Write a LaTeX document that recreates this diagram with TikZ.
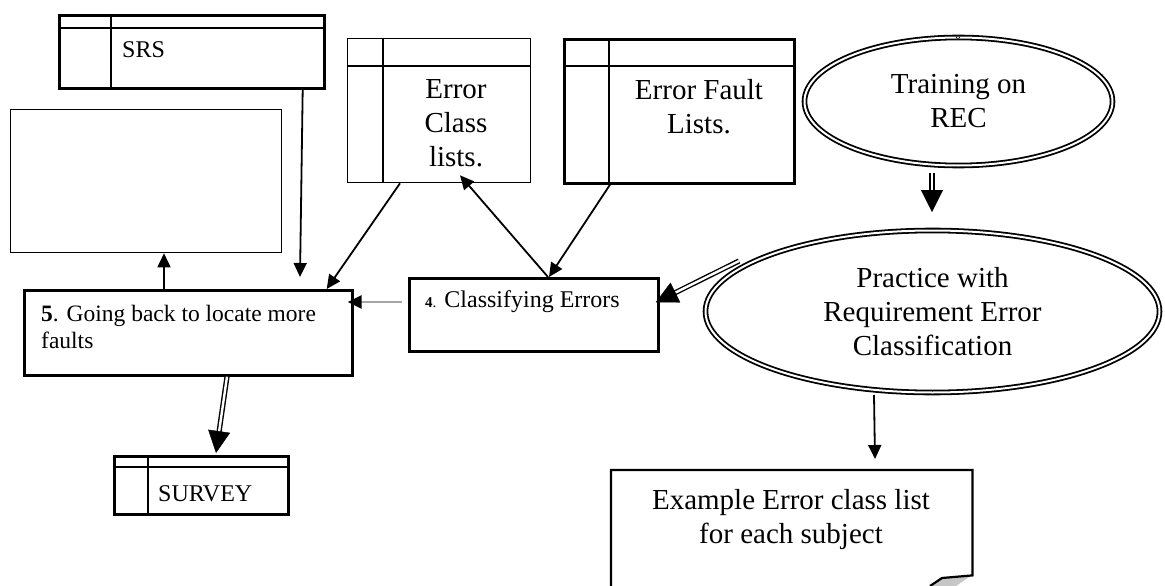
\documentclass[tikz,border=0pt]{standalone}
\usepackage{fontspec}
\setmainfont{Liberation Serif}
\usetikzlibrary{shapes.geometric,arrows.meta,calc}
\begin{document}
\begin{tikzpicture}[x=1pt,y=-1pt,
  thickbox/.style={draw, line width=2.7pt, rectangle, inner sep=0pt, anchor=north west},
  thinbox/.style={draw, line width=1.3pt, rectangle, inner sep=0pt, anchor=north west},
  arr/.style={line width=1.8pt, -{Triangle[length=14pt,width=13pt]}},
  dbl/.style={line width=1.4pt, double=white, double distance=2.4pt},
  bigtip/.style={line width=0.4pt, -{Triangle[length=22pt,width=22pt]}},
  ell/.style={ellipse, draw, line width=1.8pt, double=white, double distance=2.0pt, inner sep=0pt, align=center},
  big/.style={font=\fontsize{29}{34}\selectfont},
  mid/.style={font=\fontsize{24}{28}\selectfont},
]
\useasboundingbox[fill=white] (0,0) rectangle (1165,586);

% boxes
\node[thickbox, minimum width=265pt, minimum height=73pt] (srs) at (58,14) {};
\draw[line width=2.7pt] ($(srs.north west)+(0,14)$) -- ($(srs.north east)+(0,14)$);
\draw[line width=2.7pt] ($(srs.north west)+(53,0)$) -- ($(srs.south west)+(53,0)$);
\node[mid, anchor=base west, inner sep=0pt] (srst) at (122,58) {SRS};

\node[thinbox, minimum width=271pt, minimum height=143pt] (empty) at (10,109) {};

\node[thinbox, minimum width=183pt, minimum height=144pt] (ecl) at (347,38) {};
\draw[line width=1.3pt] ($(ecl.north west)+(0,28)$) -- ($(ecl.north east)+(0,28)$);
\draw[line width=1.3pt] ($(ecl.north west)+(36,0)$) -- ($(ecl.south west)+(36,0)$);
\node[big, align=center, inner sep=0pt] (eclt) at (456,123) {Error\\Class\\lists.};

\node[thickbox, minimum width=230pt, minimum height=144pt] (efl) at (563,38) {};
\draw[line width=2.7pt] ($(efl.north west)+(0,28)$) -- ($(efl.north east)+(0,28)$);
\draw[line width=2.7pt] ($(efl.north west)+(46,0)$) -- ($(efl.south west)+(46,0)$);
\node[big, align=center, inner sep=0pt] (eflt) at (699,106.5) {Error Fault\\Lists.};

\node[thickbox, minimum width=328pt, minimum height=85pt] (b5) at (23,289) {};
\node[anchor=north west, align=left, inner sep=0pt, font=\fontsize{23.5}{27}\selectfont] (b5t) at (41,305) {\textbf{5}. Going back to locate more\\faults};

\node[thickbox, minimum width=249pt, minimum height=73pt] (b4) at (408,277) {};
\node[mid, anchor=base west, inner sep=0pt] (b4t) at (425,307) {{\fontsize{15}{18}\selectfont\textbf{4}.} Classifying Errors};

\node[thickbox, minimum width=174pt, minimum height=58pt] (sv) at (113,455) {};
\draw[line width=2.7pt] ($(sv.north west)+(0,12)$) -- ($(sv.north east)+(0,12)$);
\draw[line width=2.7pt] ($(sv.north west)+(35,0)$) -- ($(sv.south west)+(35,0)$);
\node[mid, anchor=base west, inner sep=0pt] (svt) at (158,501) {SURVEY};

% ellipses
\node[ell, big, minimum width=308pt, minimum height=128pt] (train) at (958.5,101.5) {Training on\\REC};
\draw[line width=0.6pt, fill=white] (958,37.5) circle (1.8pt);
\node[ell, big, minimum width=454pt, minimum height=162pt] (prac) at (932.5,311.5) {Practice with\\Requirement Error\\Classification};

% example document
\node[inner sep=0pt, anchor=north west, minimum width=361pt, minimum height=116pt] (ex) at (611,470) {};
\fill[gray!45] (930,586) -- (942,578) -- (972,575) -- (956,586) -- cycle;
\draw[line width=2.2pt, line join=miter] (ex.south west) -- (ex.north west) -- (ex.north east) -- ($(ex.south east)+(0,-11)$) -- (942,578) -- (930,586);
\node[big, align=center, inner sep=0pt] (ext) at (791,520) {Example Error class list\\for each subject};

% connectors
\coordinate (t1) at (300,277);
\draw[arr] ($(srs.south east)+(-23,0)$) -- (t1);
\draw[arr] ($(b5.north west)+(141,0)$) coordinate (u1) -- (u1 |- empty.south);
\draw[arr] ($(ecl.south west)+(53,0)$) -- ($(b5.north east)+(-27,0)$);
\draw[arr] ($(efl.south west)+(47,0)$) -- ($(b4.north west)+(141,0)$);
\draw[arr] ($(b4.north west)+(140,0)$) -- ($(ecl.south west)+(113,-8)$);
\draw[line width=2.6pt, draw=gray!70, -{Triangle[length=14pt,width=13pt,color=black]}] ($(b4.north west)+(-6,25)$) -- ($(b5.north east)+(-6,13)$);

% double arrows
\coordinate (p1) at (739,261);
\coordinate (p4) at ($(b4.east)+(-4,-12.5)$);
\draw[dbl] (p1) -- ($(p4)!16pt!(p1)$);
\draw[bigtip] ($(p4)!20pt!(p1)$) -- (p4);

\coordinate (ta) at (932,173);
\coordinate (tb) at (932,212);
\draw[dbl] (ta) -- ($(tb)!18pt!(ta)$);
\draw[bigtip] ($(tb)!22pt!(ta)$) -- (tb);

\coordinate (sa) at ($(b5.south west)+(204,0)$);
\coordinate (sb) at ($(sv.north west)+(103,-2)$);
\draw[dbl] (sa) -- ($(sb)!18pt!(sa)$);
\draw[bigtip] ($(sb)!22pt!(sa)$) -- (sb);

\coordinate (pa) at (874,395);
\coordinate (pb) at (875,459);
\draw[arr] (pa) -- (pb);
\end{tikzpicture}
\end{document}
